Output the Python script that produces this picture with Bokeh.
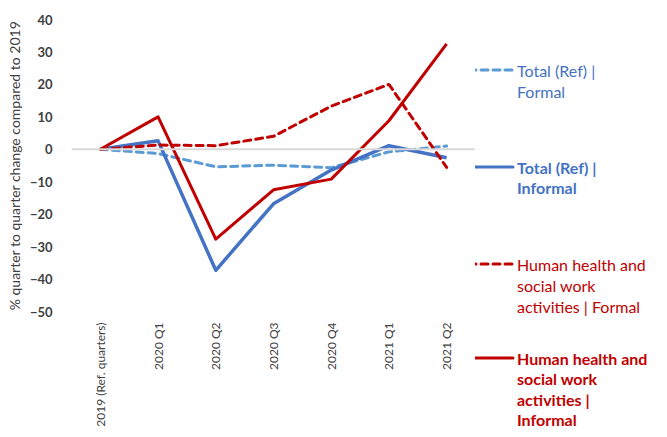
import math
from bokeh.plotting import figure
from bokeh.layouts import row
from bokeh.models import Range1d, FixedTicker, Span, Div
from bokeh.embed import file_html
from bokeh.resources import INLINE

# ---- data ----
categories = ["2019 (Ref. quarters)", "2020 Q1", "2020 Q2", "2020 Q3", "2020 Q4", "2021 Q1", "2021 Q2"]
total_formal = [0, -1.3, -5.4, -4.9, -5.7, -0.8, 1.0]
total_informal = [0, 2.6, -37.3, -16.8, -6.4, 1.1, -2.6]
hh_formal = [0, 1.3, 1.1, 4.0, 13.3, 20.0, -5.6]
hh_informal = [0, 10.0, -27.7, -12.5, -9.2, 8.8, 32.5]
y_ticks = [-50, -40, -30, -20, -10, 0, 10, 20, 30, 40]
legend_labels = [
    ["Total (Ref) |", "Formal"],
    ["Total (Ref) |", "Informal"],
    ["Human health and", "social work", "activities | Formal"],
    ["Human health and", "social work", "activities |", "Informal"],
]

FONT = "Lato"
LIGHT_BLUE = "#5B9BD5"
BLUE = "#4472C4"
RED = "#C00000"
TXT = "#404040"

# layout (figure pixels)
LEFT, TOP, FRAME_W, FRAME_H = 71, 19, 404, 293
YMIN, YMAX = -50, 40
H = 429
MAIN_W = LEFT + FRAME_W
LEG_W = 659 - MAIN_W

p = figure(x_range=categories, y_range=Range1d(YMIN, YMAX),
           width=MAIN_W, height=H,
           min_border_left=LEFT, min_border_top=TOP, min_border_right=0,
           min_border_bottom=H - TOP - FRAME_H,
           output_backend="svg", toolbar_location=None)
p.outline_line_color = None
p.xgrid.grid_line_color = None
p.ygrid.grid_line_color = None

p.yaxis.ticker = FixedTicker(ticks=y_ticks)
p.yaxis.axis_line_color = None
p.yaxis.major_tick_line_color = None
p.yaxis.minor_tick_line_color = None
p.yaxis.major_label_text_font = FONT
p.yaxis.major_label_text_font_style = "bold"
p.yaxis.major_label_text_font_size = "13px"
p.yaxis.major_label_text_color = TXT
p.yaxis.major_label_standoff = 13
p.yaxis.axis_label = "% quarter to quarter change compared to 2019"
p.yaxis.axis_label_text_font = FONT
p.yaxis.axis_label_text_font_style = "normal"
p.yaxis.axis_label_text_font_size = "14px"
p.yaxis.axis_label_text_color = TXT
p.yaxis.axis_label_standoff = 4

p.xaxis.axis_line_color = None
p.xaxis.major_tick_line_color = None
p.xaxis.minor_tick_line_color = None
p.xaxis.major_label_orientation = math.pi / 2
p.xaxis.major_label_text_font = FONT
p.xaxis.major_label_text_font_size = "12px"
p.xaxis.major_label_text_color = TXT
p.xaxis.major_label_standoff = 5

p.add_layout(Span(location=0, dimension="width", line_color="#D9D9D9", line_width=2))

p.line(categories, total_formal, line_color=LIGHT_BLUE, line_width=3, line_dash="7 5", line_cap="round")
p.line(categories, total_informal, line_color=BLUE, line_width=3.5, line_join="round")
p.line(categories, hh_formal, line_color=RED, line_width=3, line_dash="7 5", line_cap="round")
p.line(categories, hh_informal, line_color=RED, line_width=3, line_join="round")

# ---- legend as inline SVG in a Div (pixel layout) ----
styles = [
    (LIGHT_BLUE, BLUE, "7 5", "normal", 70, 21.5),
    (BLUE, BLUE, None, "bold", 167, 20.5),
    (RED, RED, "7 5", "normal", 264, 21),
    (RED, RED, None, "bold", 358, 20.5),
]
parts = []
for lines, (lcol, tcol, dash, weight, ytop, step) in zip(legend_labels, styles):
    dash_attr = f' stroke-dasharray="{dash}"' if dash else ""
    parts.append(f'<line x1="{469 - MAIN_W}" x2="{513 - MAIN_W}" y1="{ytop}" y2="{ytop}" '
                 f'stroke="{lcol}" stroke-width="3" stroke-linecap="round"{dash_attr}/>')
    for i, t in enumerate(lines):
        parts.append(f'<text x="{517 - MAIN_W}" y="{ytop + i * step}" '
                     f'style="font-family:{FONT};font-size:16px;font-weight:{weight};fill:{tcol}" '
                     f'dominant-baseline="central">{t}</text>')
svg = (f'<svg xmlns="http://www.w3.org/2000/svg" width="{LEG_W}" height="{H}" '
       f'style="display:block">' + "".join(parts) + '</svg>')
legend_div = Div(text=svg, width=LEG_W, height=H, margin=(0, 0, 0, 0))

layout = row(p, legend_div, spacing=0)
open("out.html", "w").write(file_html(layout, INLINE))
